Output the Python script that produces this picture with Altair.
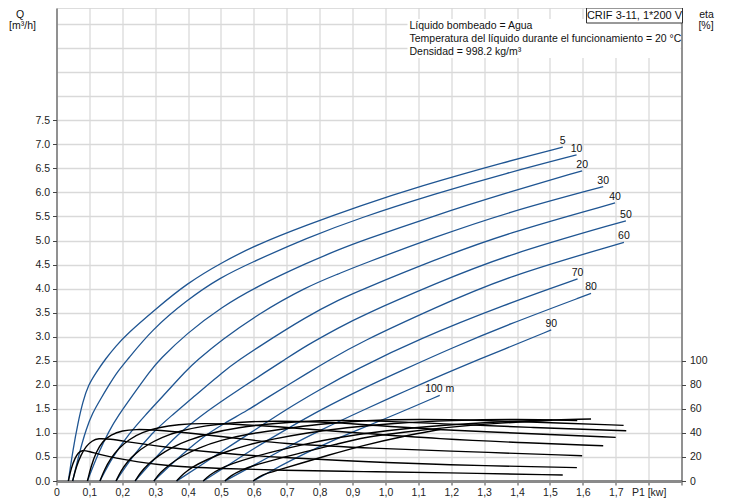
import altair as alt
import pandas as pd

# ---------------- data ----------------
HEADS = [5, 10, 20, 30, 40, 50, 60, 70, 80, 90, 100]
HEAD_LABELS = ["5", "10", "20", "30", "40", "50", "60", "70", "80", "90", "100 m"]

# Q [m3/h] versus P1 [kW] for each head
Q_P1 = {
    5: [0.036, 0.05, 0.065, 0.08, 0.097, 0.12, 0.15, 0.18, 0.213, 0.299, 0.396, 0.507, 0.608, 0.76, 0.922, 1.1, 1.368, 1.539],
    10: [0.049, 0.07, 0.09, 0.11, 0.132, 0.16, 0.185, 0.213, 0.289, 0.396, 0.497, 0.598, 0.76, 0.922, 1.15, 1.368, 1.581],
    20: [0.094, 0.125, 0.16, 0.19, 0.223, 0.287, 0.312, 0.396, 0.502, 0.608, 0.76, 0.862, 0.922, 1.15, 1.368, 1.598],
    30: [0.132, 0.17, 0.22, 0.27, 0.315, 0.396, 0.426, 0.502, 0.608, 0.76, 0.862, 0.922, 1.15, 1.368, 1.662],
    40: [0.181, 0.23, 0.29, 0.35, 0.406, 0.513, 0.556, 0.608, 0.76, 0.862, 0.922, 1.15, 1.368, 1.698],
    50: [0.239, 0.3, 0.37, 0.44, 0.507, 0.645, 0.689, 0.76, 0.862, 0.922, 1.15, 1.368, 1.731],
    60: [0.296, 0.36, 0.44, 0.51, 0.583, 0.629, 0.779, 0.826, 0.922, 1.15, 1.368, 1.725],
    70: [0.365, 0.44, 0.53, 0.61, 0.695, 0.8, 0.907, 1.1, 1.368, 1.584],
    80: [0.446, 0.52, 0.6, 0.7, 0.801, 0.93, 1.054, 1.2, 1.368, 1.625],
    90: [0.512, 0.6, 0.7, 0.8, 0.933, 1.07, 1.206, 1.368, 1.504],
    100: [0.598, 0.65, 0.71, 0.8, 0.9, 1.044, 1.165],
}
Q_VAL = {
    5: [0, 0.65, 1.2, 1.65, 2.0, 2.25, 2.55, 2.8, 3.05, 3.56, 4.11, 4.56, 4.91, 5.32, 5.72, 6.12, 6.64, 6.94],
    10: [0, 0.6, 1.08, 1.42, 1.68, 2.0, 2.27, 2.5, 3.14, 3.76, 4.23, 4.56, 5.05, 5.47, 5.97, 6.40, 6.78],
    20: [0, 0.55, 1.05, 1.38, 1.7, 2.31, 2.515, 3.07, 3.62, 4.04, 4.53, 4.82, 4.98, 5.52, 5.99, 6.45],
    30: [0, 0.5, 0.98, 1.37, 1.70, 2.31, 2.5, 2.93, 3.45, 4.04, 4.32, 4.49, 5.07, 5.58, 6.12],
    40: [0, 0.5, 1.0, 1.36, 1.684, 2.31, 2.52, 2.76, 3.42, 3.78, 3.96, 4.6, 5.15, 5.78],
    50: [0, 0.48, 0.98, 1.36, 1.684, 2.31, 2.5, 2.82, 3.2, 3.42, 4.1, 4.70, 5.41],
    60: [0, 0.42, 0.9, 1.2, 1.476, 1.684, 2.31, 2.5, 2.88, 3.6, 4.25, 4.96],
    70: [0, 0.33, 0.74, 1.09, 1.476, 1.9, 2.31, 2.95, 3.68, 4.20],
    80: [0, 0.32, 0.68, 1.08, 1.476, 1.92, 2.31, 2.76, 3.24, 3.90],
    90: [0, 0.33, 0.7, 1.05, 1.476, 1.9, 2.31, 2.76, 3.14],
    100: [0, 0.2, 0.42, 0.72, 1.02, 1.42, 1.78],
}

# eta [%] versus P1 [kW] for each head
ETA_P1 = {
    5: [0.036, 0.045, 0.056, 0.066, 0.077, 0.1, 0.132, 0.18, 0.244, 0.335, 0.5, 0.68, 0.938, 1.17, 1.539],
    10: [0.049, 0.06, 0.075, 0.09, 0.108, 0.127, 0.16, 0.22, 0.335, 0.5, 0.68, 0.937, 1.166, 1.582],
    20: [0.094, 0.105, 0.12, 0.14, 0.165, 0.2, 0.24, 0.3, 0.4, 0.55, 0.68, 0.937, 1.166, 1.598],
    30: [0.132, 0.145, 0.165, 0.19, 0.22, 0.26, 0.31, 0.37, 0.44, 0.55, 0.68, 0.937, 1.166, 1.4, 1.662],
    40: [0.181, 0.195, 0.215, 0.24, 0.275, 0.32, 0.38, 0.45, 0.55, 0.66, 0.8, 0.937, 1.166, 1.45, 1.7],
    50: [0.239, 0.255, 0.28, 0.31, 0.35, 0.4, 0.47, 0.55, 0.66, 0.8, 0.95, 1.166, 1.45, 1.732],
    60: [0.296, 0.315, 0.345, 0.38, 0.43, 0.5, 0.58, 0.68, 0.8, 0.937, 1.1, 1.3, 1.5, 1.724],
    70: [0.365, 0.385, 0.415, 0.455, 0.51, 0.58, 0.66, 0.76, 0.88, 1.02, 1.2, 1.4, 1.583],
    80: [0.446, 0.465, 0.495, 0.535, 0.59, 0.66, 0.75, 0.86, 1.0, 1.17, 1.4, 1.625],
    90: [0.512, 0.53, 0.56, 0.6, 0.66, 0.75, 0.85, 0.937, 1.05, 1.2, 1.35, 1.507],
    100: [0.598, 0.615, 0.64, 0.68, 0.74, 0.82, 0.937, 1.05, 1.168],
}
ETA_VAL = {
    5: [0, 11, 19, 23.5, 25.8, 24.5, 22, 19, 16, 12.5, 10.3, 9, 7.7, 7.0, 5.0],
    10: [0, 12, 22, 29, 33.5, 35.5, 35, 32.5, 28, 23, 19.5, 16.1, 13.5, 11.1],
    20: [0, 12, 24, 33, 38.5, 42, 43, 42.5, 40, 35.5, 31, 27.5, 25.2, 21],
    30: [0, 9, 19, 27.5, 34.5, 40.5, 44.5, 47, 48, 47.3, 45, 39.5, 35, 32, 29.3],
    40: [0, 8, 16, 23, 30, 36.5, 42, 46, 49, 50, 49.3, 47, 42.4, 39.3, 36.3],
    50: [0, 7, 14.5, 21, 28, 34, 40, 44.5, 48, 50.5, 50.5, 47.5, 44.5, 41.8],
    60: [0, 7, 14, 20.5, 27.5, 34, 39, 43, 47.5, 50.5, 51.5, 50.5, 48.5, 46.3],
    70: [0, 6, 12, 17.5, 24, 30, 35, 40, 44.5, 48, 50.5, 51.5, 50.2],
    80: [0, 5, 10, 14.5, 19.5, 24.5, 30.5, 36.5, 42, 46.5, 50, 51.6],
    90: [0, 4.5, 9, 13, 17.5, 24, 30.5, 36.5, 40.5, 45, 48.3, 50.5],
    100: [0, 3.5, 6.5, 9.5, 14.5, 21, 30, 37, 43],
}

X_TICKS = [0, 0.1, 0.2, 0.3, 0.4, 0.5, 0.6, 0.7, 0.8, 0.9, 1.0, 1.1, 1.2, 1.3, 1.4, 1.5, 1.6, 1.7, 1.8, 1.9]
Q_TICKS = [0, 0.5, 1.0, 1.5, 2.0, 2.5, 3.0, 3.5, 4.0, 4.5, 5.0, 5.5, 6.0, 6.5, 7.0, 7.5, 8.0, 8.5, 9.0, 9.5]
ETA_TICKS = [0, 20, 40, 60, 80, 100]

INFO_LINES = ["Líquido bombeado = Agua",
              "Temperatura del líquido durante el funcionamiento = 20 °C",
              "Densidad = 998.2 kg/m³"]
MODEL = "CRIF 3-11, 1*200 V"

# ---------------- tables ----------------
q_rows, e_rows, end_rows = [], [], []
for h, lab in zip(HEADS, HEAD_LABELS):
    for p, q in zip(Q_P1[h], Q_VAL[h]):
        q_rows.append({"head": h, "P1": p, "Q": q})
    for p, e in zip(ETA_P1[h], ETA_VAL[h]):
        e_rows.append({"head": h, "P1": p, "eta": e})
    end_rows.append({"head": h, "label": lab, "P1": Q_P1[h][-1], "Q": Q_VAL[h][-1]})
q_df = pd.DataFrame(q_rows)
e_df = pd.DataFrame(e_rows)
end_df = pd.DataFrame(end_rows)
one = pd.DataFrame({"a": [0]})

FONT = "Liberation Sans"
W, H = 625, 473
QMAX = 9.834
BLUE = "#1f5592"

X_AXIS = alt.Axis(
    values=X_TICKS, title=None, grid=True, gridColor="#cfcfcf", gridWidth=1,
    labelExpr="datum.value < 0.01 ? '0' : (abs(datum.value - 1.8) < 0.01 ? 'P1 [kw]' : (datum.value > 1.85 ? '' : replace(format(datum.value, '.1f'), '.', ',')))",
    domainColor="#8a8a8a", domainWidth=3, tickColor="#444", tickSize=4,
    labelFont=FONT, labelFontSize=10.5, labelColor="#222", labelPadding=2,
    labelFlush=False, labelOverlap=False,
)
X_SCALE = alt.Scale(domain=[0, 1.9], nice=False, zero=False)

Q_AXIS = alt.Axis(
    values=Q_TICKS, title=None, grid=True, gridColor="#d9d9d9", gridWidth=1.5,
    labelExpr="datum.value > 7.6 ? '' : format(datum.value, '.1f')",
    tickOpacity={"condition": {"test": "datum.value > 7.6", "value": 0}, "value": 1},
    domainColor="#444", tickColor="#444", tickSize=4,
    labelFont=FONT, labelFontSize=10.5, labelColor="#222", labelPadding=3,
    labelFlush=False, labelOverlap=False,
)
Q_SCALE = alt.Scale(domain=[0, QMAX], nice=False, zero=True)

blue = alt.Chart(q_df).mark_line(color=BLUE, strokeWidth=1.3, interpolate="basis").encode(
    x=alt.X("P1:Q", scale=X_SCALE, axis=X_AXIS),
    y=alt.Y("Q:Q", scale=Q_SCALE, axis=Q_AXIS),
    detail="head:N",
)

labels = alt.Chart(end_df).mark_text(
    font=FONT, fontSize=10.5, color="#111", align="center", baseline="bottom", dy=-1
).encode(
    x=alt.X("P1:Q", scale=X_SCALE, axis=X_AXIS),
    y=alt.Y("Q:Q", scale=Q_SCALE, axis=Q_AXIS),
    text="label:N",
)

def txt(s, x, y, align="left", size=10.5):
    return alt.Chart(one).mark_text(
        text=s, font=FONT, fontSize=size, color="#111", align=align, baseline="middle"
    ).encode(x=alt.value(x), y=alt.value(y))

white_bg = alt.Chart(one).mark_rect(fill="white").encode(
    x=alt.value(351), x2=alt.value(624), y=alt.value(11), y2=alt.value(50)
)
box = alt.Chart(one).mark_rect(fill="white", stroke="#333", strokeWidth=1).encode(
    x=alt.value(530), x2=alt.value(626), y=alt.value(0), y2=alt.value(15)
)

annot = [
    white_bg,
    txt(INFO_LINES[0], 353, 18),
    txt(INFO_LINES[1], 353, 30.5),
    txt(INFO_LINES[2], 353, 43.5),
    box,
    txt(MODEL, 578, 7.5, align="center", size=11),
    txt("Q", -36.5, 6.5, align="center"),
    txt("[m³/h]", -34, 18, align="center"),
    txt("eta", 650, 6.5, align="center"),
    txt("[%]", 649.5, 18, align="center"),
]

inner = alt.layer(blue, labels, *annot)

eta = alt.Chart(e_df).mark_line(color="black", strokeWidth=1.4, interpolate="basis").encode(
    x=alt.X("P1:Q", scale=X_SCALE, axis=X_AXIS),
    y=alt.Y(
        "eta:Q",
        scale=alt.Scale(domain=[0, QMAX * 40], nice=False, zero=True),
        axis=alt.Axis(
            orient="right", values=ETA_TICKS, title=None, grid=False,
            domainColor="#444", tickColor="#444", tickSize=4,
            labelFont=FONT, labelFontSize=10.5, labelColor="#222", labelPadding=4,
            labelFlush=False, labelOverlap=False,
        ),
    ),
    detail="head:N",
)

chart = alt.layer(inner, eta).resolve_scale(y="independent").properties(
    width=W, height=H,
    autosize=alt.AutoSizeParams(type="none"),
    padding={"left": 48.5, "top": 0, "right": 40, "bottom": 18},
).configure_view(stroke="#888", strokeWidth=1).configure(background="white")

chart.save("out.html", embed_options={"renderer": "svg", "actions": False})
